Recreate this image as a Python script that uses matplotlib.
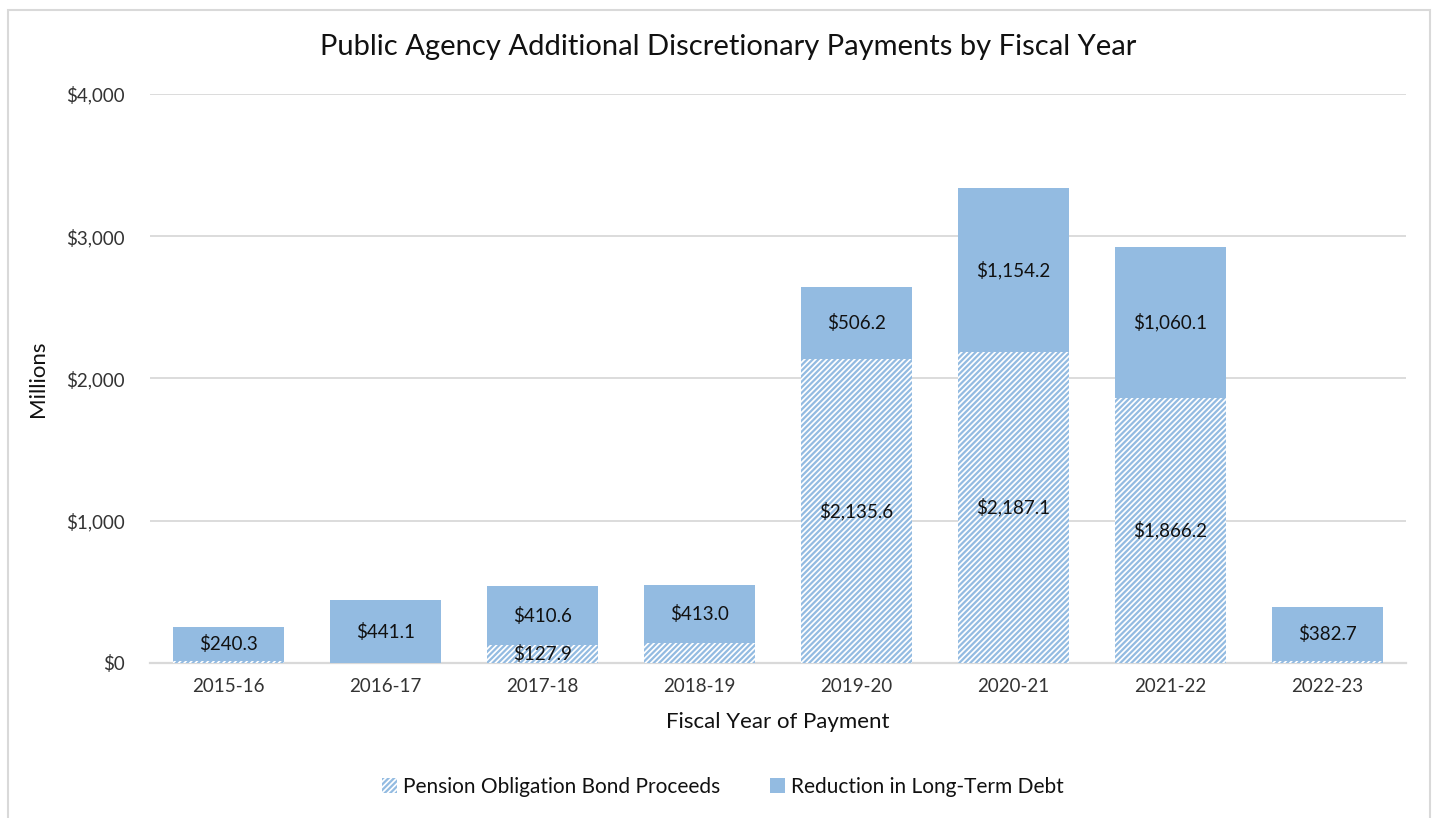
import numpy as np
import matplotlib
matplotlib.use("Agg")
import matplotlib.pyplot as plt
from matplotlib.patches import Rectangle

# Data (millions of dollars)
years = ["2015-16", "2016-17", "2017-18", "2018-19", "2019-20", "2020-21", "2021-22", "2022-23"]
bond_proceeds = [11, 0, 127.9, 138, 2135.6, 2187.1, 1866.2, 12]
debt_reduction = [240.3, 441.1, 410.6, 413.0, 506.2, 1154.2, 1060.1, 382.7]
bond_labels = ["", "", "$127.9", "", "$2,135.6", "$2,187.1", "$1,866.2", ""]
debt_labels = ["$240.3", "$441.1", "$410.6", "$413.0", "$506.2", "$1,154.2", "$1,060.1", "$382.7"]
yticks = [0, 1000, 2000, 3000, 4000]
ytick_labels = ["$0", "$1,000", "$2,000", "$3,000", "$4,000"]

plt.rcParams['font.family'] = ['Lato', 'DejaVu Sans']
plt.rcParams['hatch.linewidth'] = 1.6

blue = "#93BBE1"
grid_gray = "#D9D9D9"
text_col = "#111111"

fig = plt.figure(figsize=(14.37, 8.18), dpi=100)
ax = fig.add_axes([150 / 1437, 1 - 663 / 818, (1406 - 150) / 1437, (663 - 94) / 818])

x = np.arange(len(years))
w = 0.71

b1 = ax.bar(x, bond_proceeds, w, color="white", edgecolor=blue, hatch="//////",
            linewidth=0, label="Pension Obligation Bond Proceeds", zorder=3)
b2 = ax.bar(x, debt_reduction, w, bottom=bond_proceeds, color=blue, edgecolor="none",
            label="Reduction in Long-Term Debt", zorder=3)

ax.bar_label(b1, labels=bond_labels, label_type="center", fontsize=13.5, color=text_col, zorder=4)
ax.bar_label(b2, labels=debt_labels, label_type="center", fontsize=13.5, color=text_col, zorder=4)

ax.set_xlim(-0.5, len(years) - 0.5)
ax.set_ylim(0, 4000)
ax.set_yticks(yticks)
ax.set_yticklabels(ytick_labels)
ax.set_xticks(x)
ax.set_xticklabels(years)
ax.tick_params(axis="both", length=0, labelsize=13.5, colors="#333333")
ax.tick_params(axis="y", pad=18)
ax.tick_params(axis="x", pad=11)

ax.grid(axis="y", color=grid_gray, linewidth=1.3, zorder=0)
for s in ["top", "right", "left"]:
    ax.spines[s].set_visible(False)
ax.spines["bottom"].set_color(grid_gray)
ax.spines["bottom"].set_linewidth(1.6)

ax.set_xlabel("Fiscal Year of Payment", fontsize=16, color=text_col, labelpad=12)
ax.set_ylabel("Millions", fontsize=16, color=text_col, labelpad=13)

fig.text(0.507, 1 - 47 / 818, "Public Agency Additional Discretionary Payments by Fiscal Year",
         ha="center", va="center", fontsize=21, color=text_col)

leg = fig.legend(handles=[b1, b2], loc="center", bbox_to_anchor=(0.503, 1 - 787 / 818),
                 ncol=2, frameon=False, fontsize=15, handlelength=0.7, handleheight=0.7,
                 handletextpad=0.3, columnspacing=2.4, labelcolor=text_col)

# chart area border
fig.patches.append(Rectangle((8 / 1437, -0.05), (1430 - 8) / 1437, 1.05 - 10 / 818,
                             transform=fig.transFigure, fill=False, edgecolor=grid_gray,
                             linewidth=1.5))

fig.savefig("out.png", dpi=100)
